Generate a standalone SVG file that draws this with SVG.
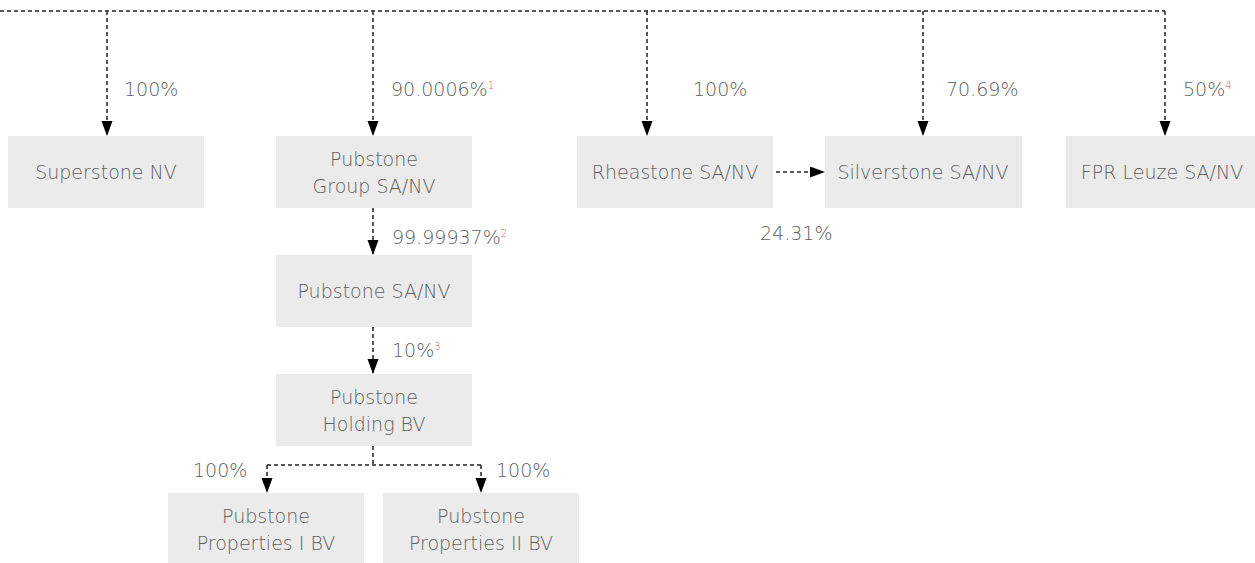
<svg xmlns="http://www.w3.org/2000/svg" width="1255" height="563" viewBox="0 0 1255 563">
<defs>
<marker id="ah" markerUnits="userSpaceOnUse" markerWidth="16" markerHeight="12" refX="15" refY="5.5" orient="auto">
<path d="M0,0 L15,5.5 L0,11 z" fill="#000"/>
</marker>
<style>
.box{fill:#ebebeb}
.t{font-family:"DejaVu Sans","Open Sans",sans-serif;font-weight:200;font-size:19px;fill:#606060}
.c{text-anchor:middle}
.sup{font-size:10px;fill:#e8524a}
.ln{fill:none;stroke:#222;stroke-width:1.5;stroke-dasharray:4 3}
</style>
</defs>
<rect width="1255" height="563" fill="#fff"/>
<g id="connectors">
<path class="ln" d="M0,11 H1165"/>
<path class="ln" d="M107,11 V136" marker-end="url(#ah)"/>
<path class="ln" d="M373,11 V136" marker-end="url(#ah)"/>
<path class="ln" d="M647,11 V136" marker-end="url(#ah)"/>
<path class="ln" d="M923,11 V136" marker-end="url(#ah)"/>
<path class="ln" d="M1165,11 V136" marker-end="url(#ah)"/>
<path class="ln" d="M776,172 H825" marker-end="url(#ah)"/>
<path class="ln" d="M373,208 V255" marker-end="url(#ah)"/>
<path class="ln" d="M373,327 V374" marker-end="url(#ah)"/>
<path class="ln" d="M373,446 V465 M267,465 H481"/>
<path class="ln" d="M267,465 V493" marker-end="url(#ah)"/>
<path class="ln" d="M481,465 V493" marker-end="url(#ah)"/>
</g>
<g id="labels">
<text class="t" x="124" y="96">100%</text>
<text class="t" x="391" y="96">90.0006%<tspan class="sup" dy="-7">1</tspan></text>
<text class="t" x="693" y="96">100%</text>
<text class="t" x="946" y="96">70.69%</text>
<text class="t" x="1183" y="96">50%<tspan class="sup" dy="-7">4</tspan></text>
<text class="t" x="760" y="240">24.31%</text>
<text class="t" x="392" y="244">99.99937%<tspan class="sup" dy="-7">2</tspan></text>
<text class="t" x="392" y="357">10%<tspan class="sup" dy="-7">3</tspan></text>
<text class="t" x="193" y="477">100%</text>
<text class="t" x="496" y="477">100%</text>
</g>
<g id="superstone"><rect class="box" x="8" y="136" width="196" height="72"/><text class="t c" x="106" y="179">Superstone NV</text></g>
<g id="pubstone-group"><rect class="box" x="276" y="136" width="196" height="72"/><text class="t c" x="374" y="166">Pubstone</text><text class="t c" x="374" y="193">Group SA/NV</text></g>
<g id="rheastone"><rect class="box" x="577" y="136" width="196" height="72"/><text class="t c" x="675" y="179">Rheastone SA/NV</text></g>
<g id="silverstone"><rect class="box" x="825" y="136" width="197" height="72"/><text class="t c" x="923" y="179">Silverstone SA/NV</text></g>
<g id="fpr-leuze"><rect class="box" x="1066" y="136" width="196" height="72"/><text class="t c" x="1162" y="179">FPR Leuze SA/NV</text></g>
<g id="pubstone-sa"><rect class="box" x="276" y="255" width="196" height="72"/><text class="t c" x="374" y="298">Pubstone SA/NV</text></g>
<g id="pubstone-holding"><rect class="box" x="276" y="374" width="196" height="72"/><text class="t c" x="374" y="404">Pubstone</text><text class="t c" x="374" y="431">Holding BV</text></g>
<g id="properties-1"><rect class="box" x="168" y="493" width="196" height="72"/><text class="t c" x="266" y="523">Pubstone</text><text class="t c" x="266" y="550">Properties I BV</text></g>
<g id="properties-2"><rect class="box" x="383" y="493" width="196" height="72"/><text class="t c" x="481" y="523">Pubstone</text><text class="t c" x="481" y="550">Properties II BV</text></g>
</svg>
